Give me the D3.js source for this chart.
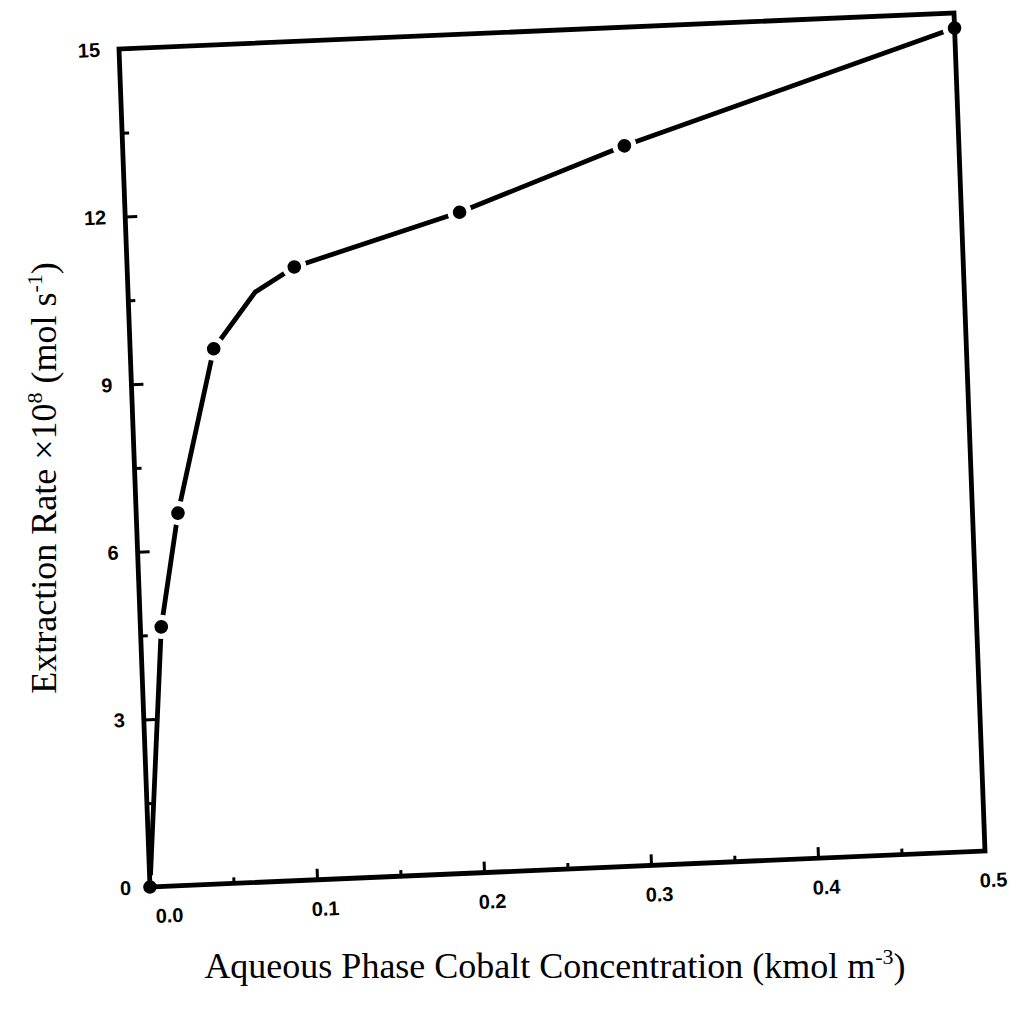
<!DOCTYPE html>
<html>
<head>
<meta charset="utf-8">
<script src="https://cdn.jsdelivr.net/npm/d3@7"></script>
<style>
    body { margin: 0; background: #fff; }
    svg { display: block; }
    .tick text { font-family: "Liberation Sans", Arial, sans-serif; font-weight: bold; font-size: 20px; fill: #000; }
    .tick line { stroke: #000; stroke-width: 3; }
    .title { font-family: "Liberation Serif", "Times New Roman", serif; font-size: 36px; fill: #000; }
</style>
</head>
<body>
<div id="chart"></div>
<script>
const concentration = [0, 0.0125, 0.025, 0.05, 0.1, 0.2, 0.3, 0.5];
const extractionRate = [0, 4.64, 6.66, 9.57, 10.97, 11.82, 12.88, 14.73];

// the drawn curve: through the points, with one unmarked bend near 0.076
const curveConcentration = [0, 0.0125, 0.025, 0.05, 0.076, 0.1, 0.2, 0.3, 0.5];
const curveRate = [0, 4.64, 6.66, 9.57, 10.55, 10.97, 11.82, 12.88, 14.73];

const xTicks = [0, 0.1, 0.2, 0.3, 0.4, 0.5];
const xTickLabels = ["0.0", "0.1", "0.2", "0.3", "0.4", "0.5"];
const xMinorTicks = [0.05, 0.15, 0.25, 0.35, 0.45];
const yTicks = [0, 3, 6, 9, 12, 15];
const yTickLabels = ["0", "3", "6", "9", "12", "15"];
const yMinorTicks = [1.5, 4.5, 7.5, 10.5, 13.5];

const cfg = {
    width: 1015,
    height: 1016,
    plotWidth: 835,
    plotHeight: 838,
    // the scan is slightly tilted: plot box corners sit at (119,49), (954,13), (150,887)
    origin: [119, 49],
    skewX: -36 / 835,
    skewY: 31 / 838,
    stroke: 4.8,
};

const svg = d3.select("#chart")
    .append("svg")
    .attr("width", cfg.width)
    .attr("height", cfg.height);

const plot = svg.append("g")
    .attr("transform", "matrix(1," + cfg.skewX + "," + cfg.skewY + ",1," + cfg.origin[0] + "," + cfg.origin[1] + ")");

const x = d3.scaleLinear().domain([0, 0.5]).range([0, cfg.plotWidth]);
const y = d3.scaleLinear().domain([0, 15]).range([cfg.plotHeight, 0]);

const points = concentration.map((c, i) => [c, extractionRate[i]]);
const curvePoints = curveConcentration.map((c, i) => [c, curveRate[i]]);

// curve
const line = d3.line()
    .x(d => x(d[0]))
    .y(d => y(d[1]));

plot.append("path")
    .datum(curvePoints)
    .attr("d", line)
    .attr("fill", "none")
    .attr("stroke", "#000")
    .attr("stroke-width", cfg.stroke)
    .attr("stroke-linejoin", "round");

// white gaps round the markers
plot.selectAll("circle.halo")
    .data(points)
    .enter()
    .append("circle")
    .attr("class", "halo")
    .attr("cx", d => x(d[0]))
    .attr("cy", d => y(d[1]))
    .attr("r", 12)
    .attr("fill", "#fff");

// frame
plot.append("rect")
    .attr("x", 0)
    .attr("y", 0)
    .attr("width", cfg.plotWidth)
    .attr("height", cfg.plotHeight)
    .attr("fill", "none")
    .attr("stroke", "#000")
    .attr("stroke-width", cfg.stroke);

// x axis
const xAxis = plot.append("g")
    .attr("transform", "translate(0," + cfg.plotHeight + ")")
    .call(d3.axisBottom(x)
        .tickValues(xTicks)
        .tickSize(-11)
        .tickPadding(22)
        .tickFormat((d, i) => xTickLabels[i]));
xAxis.select(".domain").remove();
xAxis.selectAll(".tick text").attr("dx", (d, i) => i === 0 ? 18 : 7);

const xMinor = plot.append("g")
    .attr("transform", "translate(0," + cfg.plotHeight + ")")
    .call(d3.axisBottom(x).tickValues(xMinorTicks).tickSize(-6).tickFormat(""));
xMinor.select(".domain").remove();

// y axis
const yAxis = plot.append("g")
    .call(d3.axisLeft(y)
        .tickValues(yTicks)
        .tickSize(-12)
        .tickPadding(19)
        .tickFormat((d, i) => yTickLabels[i]));
yAxis.select(".domain").remove();

const yMinor = plot.append("g")
    .call(d3.axisLeft(y).tickValues(yMinorTicks).tickSize(-7).tickFormat(""));
yMinor.select(".domain").remove();

// markers
plot.selectAll("circle.dot")
    .data(points)
    .enter()
    .append("circle")
    .attr("class", "dot")
    .attr("cx", d => x(d[0]))
    .attr("cy", d => y(d[1]))
    .attr("r", 6.8)
    .attr("fill", "#000");

// titles (typed on the page, not tilted)
const xTitle = svg.append("text")
    .attr("class", "title")
    .attr("x", 555)
    .attr("y", 978)
    .attr("text-anchor", "middle");
xTitle.append("tspan").text("Aqueous Phase Cobalt Concentration (kmol m");
xTitle.append("tspan").attr("font-size", 22).attr("dy", -14).text("-3");
xTitle.append("tspan").attr("dy", 14).text(")");

const yTitle = svg.append("text")
    .attr("class", "title")
    .attr("transform", "translate(56,478) rotate(-90)")
    .attr("text-anchor", "middle");
yTitle.append("tspan").text("Extraction Rate \u00d710");
yTitle.append("tspan").attr("font-size", 22).attr("dy", -14).text("8");
yTitle.append("tspan").attr("dy", 14).text(" (mol s");
yTitle.append("tspan").attr("font-size", 22).attr("dy", -14).text("-1");
yTitle.append("tspan").attr("dy", 14).text(")");
</script>
</body>
</html>
